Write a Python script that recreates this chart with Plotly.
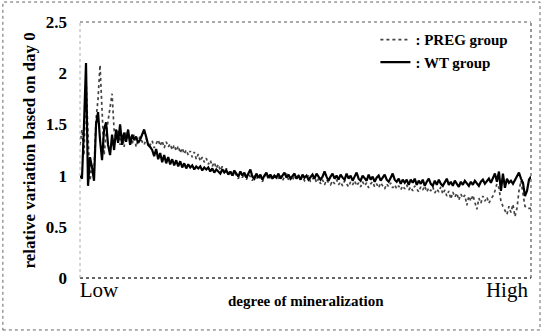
import plotly.graph_objects as go

# Relative variation (based on day 0) across degree of mineralization (Low -> High)
wt_group = [
    1.00, 0.97, 1.50, 2.10, 0.90, 1.18, 1.08, 0.95, 1.50, 1.62,
    1.35, 1.15, 1.45, 1.52, 1.30, 1.20, 1.40, 1.25, 1.45, 1.32,
    1.50, 1.30, 1.42, 1.33, 1.45, 1.30, 1.40, 1.35, 1.38, 1.32,
    1.35, 1.40, 1.45, 1.38, 1.30, 1.28, 1.25, 1.19, 1.26, 1.16,
    1.22, 1.13, 1.20, 1.12, 1.18, 1.11, 1.16, 1.10, 1.15, 1.09,
    1.14, 1.08, 1.12, 1.07, 1.11, 1.08, 1.10, 1.06, 1.09, 1.07,
    1.09, 1.05, 1.08, 1.06, 1.08, 1.04, 1.07, 1.03, 1.06, 1.04,
    1.02, 1.06, 1.03, 1.05, 1.01, 1.04, 1.00, 1.05, 1.02, 0.99,
    1.04, 1.00, 1.03, 0.98, 1.02, 1.06, 0.99, 0.97, 1.02, 0.98,
    1.01, 0.96, 1.00, 1.03, 0.98, 1.01, 0.97, 1.00, 0.98, 1.02,
    0.97, 1.00, 1.03, 0.98, 1.01, 0.97, 1.00, 1.02, 0.97, 1.00,
    0.96, 1.01, 0.98, 1.00, 0.96, 0.99, 1.01, 0.97, 1.02, 0.99,
    0.96, 0.99, 1.04, 0.99, 0.95, 0.99, 1.02, 0.97, 1.00, 0.96,
    1.01, 0.98, 0.96, 1.02, 0.97, 1.00, 0.95, 0.99, 1.03, 0.97,
    0.95, 1.00, 0.97, 0.95, 1.01, 0.96, 0.99, 0.94, 0.98, 1.00,
    0.95, 0.98, 1.01, 0.96, 0.94, 0.98, 1.02, 0.96, 0.94, 0.97,
    0.92, 0.96, 0.93, 0.96, 0.91, 0.96, 0.93, 0.97, 0.91, 0.95,
    0.92, 0.96, 0.90, 0.94, 0.97, 0.92, 0.90, 0.95, 0.91, 0.96,
    0.92, 0.90, 0.94, 0.97, 0.91, 0.94, 0.90, 0.95, 0.92, 0.89,
    0.94, 0.91, 0.95, 0.92, 0.90, 0.94, 0.91, 0.95, 0.92, 0.90,
    0.94, 0.96, 0.92, 0.95, 0.97, 0.93, 0.98, 1.02, 0.94, 1.04,
    0.85, 1.02, 0.88, 0.97, 0.93, 0.95, 0.92, 0.96, 1.00, 1.03,
    0.97, 0.93, 0.80, 0.85, 0.96, 0.99,
]

preg_group = [
    1.30, 1.45, 1.20, 1.95, 1.40, 0.95, 1.10, 1.05, 1.55, 1.75,
    2.08, 1.60, 1.20, 1.40, 1.55, 1.65, 1.80, 1.45, 1.35, 1.45,
    1.30, 1.40, 1.28, 1.42, 1.35, 1.38, 1.30, 1.40, 1.28, 1.35,
    1.38, 1.33, 1.30, 1.36, 1.32, 1.30, 1.34, 1.27, 1.32, 1.35,
    1.29, 1.34, 1.27, 1.33, 1.28, 1.31, 1.25, 1.30, 1.24, 1.29,
    1.22, 1.27, 1.21, 1.25, 1.20, 1.24, 1.18, 1.23, 1.16, 1.21,
    1.14, 1.18, 1.13, 1.17, 1.11, 1.15, 1.09, 1.13, 1.07, 1.11,
    1.05, 1.09, 1.03, 1.07, 1.02, 1.05, 0.99, 1.04, 1.00, 0.97,
    1.03, 0.98, 1.02, 0.96, 1.01, 0.99, 0.95, 1.00, 0.96, 1.01,
    0.97, 0.94, 0.99, 1.02, 0.96, 0.99, 1.01, 0.96, 1.00, 0.97,
    1.01, 0.95, 0.99, 1.02, 0.96, 0.99, 0.95, 1.00, 0.97, 1.01,
    0.96, 0.99, 0.95, 0.98, 1.00, 0.94, 0.97, 0.99, 0.93, 0.97,
    0.92, 0.96, 0.91, 0.96, 0.93, 0.91, 0.95, 0.92, 0.96, 0.91,
    0.94, 0.90, 0.95, 0.92, 0.89, 0.94, 0.91, 0.95, 0.90, 0.93,
    0.89, 0.94, 0.90, 0.93, 0.88, 0.92, 0.94, 0.89, 0.92, 0.88,
    0.93, 0.90, 0.87, 0.92, 0.89, 0.93, 0.88, 0.91, 0.87, 0.90,
    0.86, 0.90, 0.87, 0.91, 0.86, 0.89, 0.85, 0.90, 0.87, 0.84,
    0.89, 0.86, 0.90, 0.84, 0.88, 0.85, 0.89, 0.83, 0.87, 0.84,
    0.89, 0.82, 0.86, 0.80, 0.85, 0.77, 0.84, 0.79, 0.83, 0.76,
    0.82, 0.78, 0.81, 0.71, 0.80, 0.75, 0.81, 0.73, 0.67, 0.78,
    0.73, 0.80, 0.75, 0.79, 0.73, 0.77, 0.80, 0.85, 0.92, 0.88,
    0.75, 0.70, 0.66, 0.62, 0.70, 0.64, 0.72, 0.60, 0.68, 0.85,
    0.95, 0.80, 0.70, 0.68, 0.68, 0.68,
]

y_ticks = [0, 0.5, 1, 1.5, 2, 2.5]
y_tick_labels = ["0", "0.5", "1", "1.5", "2", "2.5"]
x_tick_labels = ["Low", "High"]

positions = list(range(len(wt_group)))
last = positions[-1]
x_tick_positions = [9.5, 213]

serif = "'Times New Roman', 'Liberation Serif', 'DejaVu Serif', serif"

fig = go.Figure()
fig.add_trace(go.Scatter(
    x=positions, y=preg_group, mode="lines", name=": PREG group",
    line=dict(color="#444444", width=1.7, dash="dot"),
))
fig.add_trace(go.Scatter(
    x=positions, y=wt_group, mode="lines", name=": WT group",
    line=dict(color="black", width=2.2),
))

fig.update_layout(
    width=543, height=332,
    margin=dict(l=80, r=12, t=22, b=54),
    paper_bgcolor="white", plot_bgcolor="white",
    font=dict(family=serif),
    showlegend=True,
    legend=dict(
        x=0.655, y=0.995, xanchor="left", yanchor="top",
        font=dict(family=serif, size=15, color="black", weight="bold"),
        bgcolor="rgba(0,0,0,0)", tracegroupgap=0, itemwidth=30,
    ),
    xaxis=dict(
        range=[0, last], showgrid=False, zeroline=False, showline=False,
        tickvals=x_tick_positions, ticktext=x_tick_labels, ticks="",
        ticklabelstandoff=-3,
        tickfont=dict(family=serif, size=21, color="black"),
    ),
    yaxis=dict(
        range=[0, 2.5], showgrid=False, zeroline=False, showline=False,
        tickvals=y_ticks, ticktext=y_tick_labels, ticks="",
        ticklabelstandoff=12,
        tickfont=dict(family=serif, size=17, color="black", weight="bold"),
    ),
    annotations=[
        dict(text="relative variation based on day 0", xref="paper", yref="paper",
             x=-0.112, y=0.5, xanchor="center", yanchor="middle", textangle=-90,
             showarrow=False, font=dict(family=serif, size=17, color="black", weight="bold")),
        dict(text="degree of mineralization", xref="paper", yref="paper",
             x=0.5, y=-0.05, xanchor="center", yanchor="top",
             showarrow=False, font=dict(family=serif, size=15, color="black", weight="bold")),
    ],
    shapes=[
        # plot frame (dotted)
        dict(type="line", xref="paper", yref="paper", x0=0, x1=1, y0=1, y1=1,
             line=dict(color="#555555", width=1.2, dash="dot")),
        dict(type="line", xref="paper", yref="paper", x0=1, x1=1, y0=0, y1=1,
             line=dict(color="#555555", width=1.2, dash="dot")),
        dict(type="line", xref="paper", yref="paper", x0=0, x1=1, y0=0, y1=0,
             line=dict(color="#333333", width=1.4, dash="dot")),
        dict(type="line", xref="paper", yref="paper", x0=0, x1=0, y0=0, y1=1,
             line=dict(color="#aaaaaa", width=1, dash="dot")),
        # outer figure border (dotted)
        dict(type="rect", xref="paper", yref="paper",
             x0=-0.171, x1=1.02, y0=-0.203, y1=1.078,
             line=dict(color="#666666", width=1, dash="dot")),
    ],
)

fig.write_html("out.html")
